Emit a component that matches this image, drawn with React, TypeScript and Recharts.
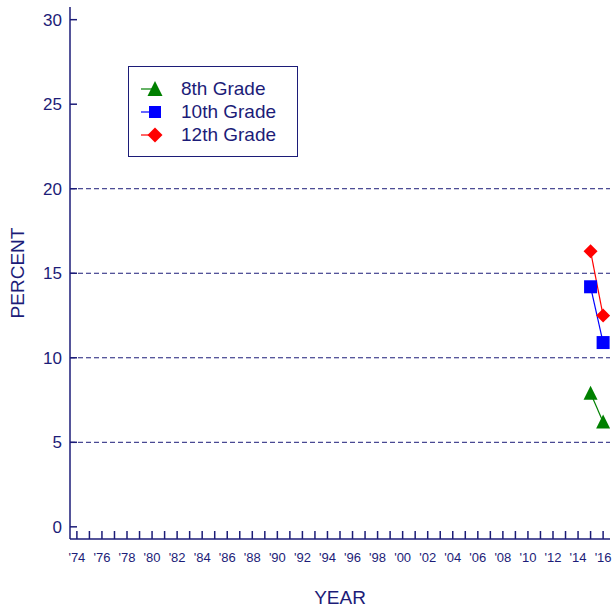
import { Legend, Line, LineChart, ReferenceArea, ReferenceLine, XAxis, YAxis } from 'recharts'

const YEARS = [2015, 2016]
const GRADE_8 = [7.9, 6.2]
const GRADE_10 = [14.2, 10.9]
const GRADE_12 = [16.3, 12.5]

const YEAR_TICKS = [
  1974, 1975, 1976, 1977, 1978, 1979, 1980, 1981, 1982, 1983, 1984, 1985, 1986, 1987, 1988,
  1989, 1990, 1991, 1992, 1993, 1994, 1995, 1996, 1997, 1998, 1999, 2000, 2001, 2002, 2003,
  2004, 2005, 2006, 2007, 2008, 2009, 2010, 2011, 2012, 2013, 2014, 2015, 2016,
]
const PERCENT_TICKS = [0, 5, 10, 15, 20, 25, 30]
const GRID_LEVELS = [5, 10, 15, 20]

const NAVY = '#1c1c78'
const GREEN = '#008000'
const BLUE = '#0000ff'
const RED = '#ff0000'
const FONT = '"Liberation Sans", Arial, sans-serif'

const data = YEARS.map((year, i) => ({
  year,
  g8: GRADE_8[i],
  g10: GRADE_10[i],
  g12: GRADE_12[i],
}))

type Shape = 'triangle' | 'square' | 'diamond'

function marker(shape: Shape, color: string, cx: number, cy: number, s: number, key?: string | number) {
  if (shape === 'triangle') {
    const h = s * 0.93
    return (
      <polygon key={key} points={`${cx},${cy - h / 2 - 1} ${cx + s / 2},${cy + h / 2} ${cx - s / 2},${cy + h / 2}`} fill={color} />
    )
  }
  if (shape === 'square') {
    return <rect key={key} x={cx - s / 2} y={cy - s / 2} width={s} height={s} fill={color} />
  }
  return (
    <polygon key={key} points={`${cx},${cy - s / 2} ${cx + s / 2},${cy} ${cx},${cy + s / 2} ${cx - s / 2},${cy}`} fill={color} />
  )
}

const dot = (shape: Shape, color: string, size: number) => (p: any) =>
  marker(shape, color, p.cx, p.cy, size, `${shape}-${p.index}`)

const SERIES: { key: string; name: string; color: string; shape: Shape }[] = [
  { key: 'g8', name: '8th Grade', color: GREEN, shape: 'triangle' },
  { key: 'g10', name: '10th Grade', color: BLUE, shape: 'square' },
  { key: 'g12', name: '12th Grade', color: RED, shape: 'diamond' },
]

function YearTick({ x, y, payload }: any) {
  const v = payload.value as number
  return (
    <g>
      <line x1={x} x2={x} y1={y} y2={y - 8} stroke={NAVY} strokeWidth={1.5} />
      {v % 2 === 0 && (
        <text x={x} y={y + 23} textAnchor="middle" fill={NAVY} fontSize={13} fontFamily={FONT}>
          {`'${String(v).slice(2)}`}
        </text>
      )}
    </g>
  )
}

function PercentTick({ x, y, payload }: any) {
  return (
    <g>
      <line x1={x} x2={x + 7} y1={y} y2={y} stroke={NAVY} strokeWidth={1.5} />
      <text x={x - 8} y={y} dy={6} textAnchor="end" fill={NAVY} fontSize={17} fontFamily={FONT}>
        {payload.value}
      </text>
    </g>
  )
}

function LegendBox() {
  return (
    <div
      style={{
        border: `1.5px solid ${NAVY}`,
        width: 170,
        height: 91,
        boxSizing: 'border-box',
        padding: '10px 0 0 12px',
        background: '#fff',
      }}
    >
      {SERIES.map((s) => (
        <div key={s.key} style={{ display: 'flex', alignItems: 'center', height: 23 }}>
          <svg width={36} height={20}>
            <line x1={0} x2={14} y1={10} y2={10} stroke={s.color} strokeWidth={1.2} />
            {marker(s.shape, s.color, 14, 10, s.shape === 'square' ? 12 : 15)}
          </svg>
          <span style={{ fontFamily: FONT, fontSize: 19, color: NAVY, marginLeft: 4, lineHeight: '23px' }}>
            {s.name}
          </span>
        </div>
      ))}
    </div>
  )
}

export default function App() {
  return (
    <div style={{ position: 'absolute', left: 0, top: 0, background: '#fff' }}>
      <LineChart width={612} height={607} data={data} margin={{ top: 7, right: 2, bottom: 0, left: 0 }}>
        <XAxis
          dataKey="year"
          type="number"
          domain={[1973.45, 2016.55]}
          allowDataOverflow
          ticks={YEAR_TICKS}
          interval={0}
          tick={<YearTick />}
          tickSize={0}
          tickMargin={0}
          tickLine={false}
          height={68}
          axisLine={{ stroke: NAVY, strokeWidth: 1.5 }}
          label={{
            content: ({ viewBox }: any) => (
              <text
                x={viewBox.x + viewBox.width / 2}
                y={viewBox.y + 65}
                textAnchor="middle"
                fill={NAVY}
                fontSize={19}
                fontFamily={FONT}
              >
                YEAR
              </text>
            ),
          }}
        />
        <YAxis
          type="number"
          domain={[-0.72, 30.75]}
          allowDataOverflow
          ticks={PERCENT_TICKS}
          interval={0}
          tick={<PercentTick />}
          tickSize={0}
          tickMargin={0}
          tickLine={false}
          width={70}
          axisLine={{ stroke: NAVY, strokeWidth: 1.5 }}
          label={{
            content: ({ viewBox }: any) => {
              const cx = viewBox.x + 24
              const cy = viewBox.y + viewBox.height / 2
              return (
                <text
                  x={cx}
                  y={cy}
                  transform={`rotate(-90 ${cx} ${cy})`}
                  textAnchor="middle"
                  fill={NAVY}
                  fontSize={19}
                  fontFamily={FONT}
                >
                  PERCENT
                </text>
              )
            },
          }}
        />
        <ReferenceArea fill="none" stroke={NAVY} strokeWidth={1.5} ifOverflow="visible" />
        {GRID_LEVELS.map((v) => (
          <ReferenceLine key={v} y={v} stroke={NAVY} strokeDasharray="5 3" strokeWidth={1} />
        ))}
        {SERIES.map((s) => (
          <Line
            key={s.key}
            dataKey={s.key}
            name={s.name}
            stroke={s.color}
            strokeWidth={1.2}
            dot={dot(s.shape, s.color, s.shape === 'square' ? 13 : 14)}
            activeDot={false}
            isAnimationActive={false}
          />
        ))}
        <Legend
          layout="vertical"
          align="center"
          verticalAlign="middle"
          content={() => <LegendBox />}
          wrapperStyle={{ left: 128, top: 66, width: 'auto', height: 'auto' }}
        />
      </LineChart>
    </div>
  )
}
